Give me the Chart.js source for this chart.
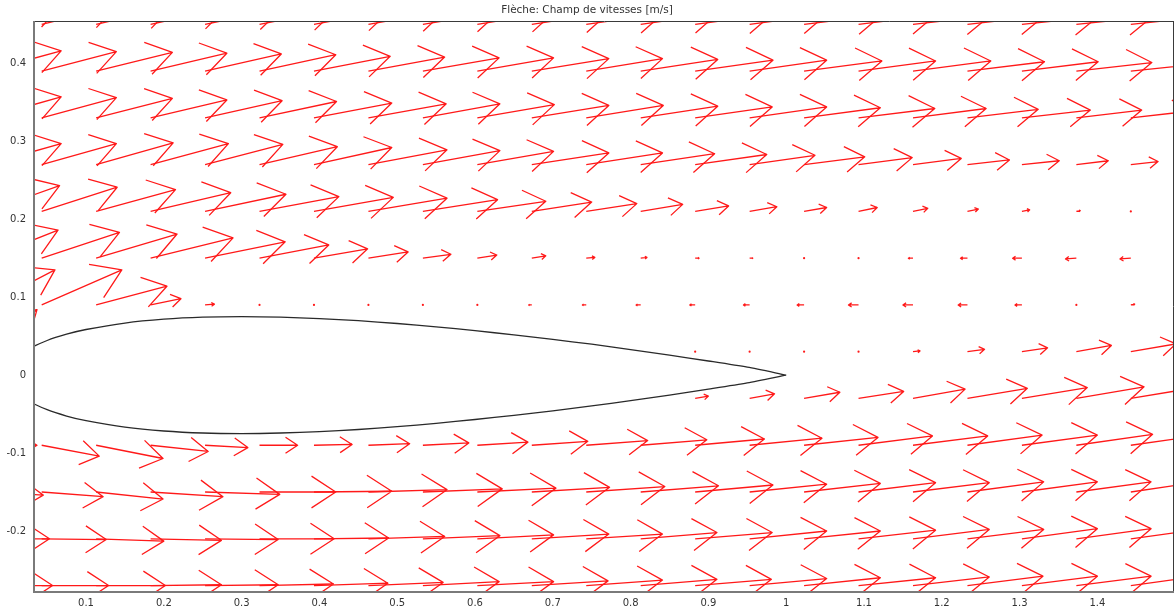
<!DOCTYPE html>
<html>
<head>
<meta charset="utf-8">
<script src="https://cdn.jsdelivr.net/npm/chart.js@4"></script>
<style>
  body { margin: 0; background: #fff; }
  #wrap { width: 1174px; height: 614px; }
</style>
</head>
<body>
<div id="wrap"><canvas id="myChart"></canvas></div>
<script>
// grid of arrow tails (columns left -> right, rows top -> bottom)
const xCols = [-0.027, 0.043, 0.113, 0.183, 0.253, 0.323, 0.393, 0.463, 0.533, 0.603, 0.673,
               0.743, 0.813, 0.883, 0.953, 1.023, 1.093, 1.163, 1.233, 1.303, 1.373, 1.443];
const yRows = [0.45, 0.39, 0.33, 0.27, 0.21, 0.15, 0.09, 0.03, -0.03, -0.09, -0.15, -0.21, -0.27];

// velocity components [m/s], one array per row, null = inside the profile
const uP45 = [0.95,0.96,0.97,0.97,0.98,0.98,0.98,0.98,0.98,0.99,0.99,0.99,0.99,0.99,0.99,1.00,0.99,0.99,0.99,0.98,0.98,0.97];
const vP45 = [0.24,0.23,0.22,0.21,0.20,0.19,0.18,0.17,0.16,0.16,0.15,0.14,0.14,0.13,0.13,0.12,0.12,0.11,0.11,0.10,0.10,0.10];
const uP39 = [0.95,0.96,0.98,0.98,0.98,0.98,0.98,0.98,0.98,0.98,0.99,0.98,0.99,1.00,0.99,1.00,0.99,1.00,0.99,0.98,0.97,0.96];
const vP39 = [0.26,0.25,0.24,0.23,0.22,0.21,0.19,0.18,0.17,0.17,0.16,0.16,0.15,0.14,0.14,0.13,0.13,0.13,0.12,0.12,0.11,0.10];
const uP33 = [0.95,0.96,0.98,0.98,0.99,0.99,1.00,1.00,0.99,0.99,0.99,0.99,0.99,0.99,0.99,0.98,0.98,0.94,0.91,0.88,0.84,0.80];
const vP33 = [0.27,0.26,0.25,0.23,0.22,0.21,0.19,0.18,0.18,0.17,0.16,0.16,0.15,0.14,0.14,0.13,0.12,0.12,0.11,0.10,0.10,0.09];
const uP27 = [0.95,0.96,0.99,1.00,1.00,1.00,1.00,1.01,0.99,0.98,0.99,0.98,0.95,0.92,0.84,0.78,0.69,0.62,0.54,0.48,0.41,0.35];
const vP27 = [0.27,0.27,0.28,0.27,0.26,0.23,0.22,0.19,0.18,0.17,0.15,0.15,0.14,0.13,0.12,0.10,0.09,0.08,0.06,0.05,0.05,0.04];
const uP21 = [0.93,0.97,1.02,1.03,1.04,1.02,1.02,1.01,0.96,0.88,0.77,0.65,0.54,0.43,0.35,0.29,0.24,0.19,0.14,0.10,0.05,0.03];
const vP21 = [0.33,0.31,0.28,0.24,0.22,0.19,0.18,0.17,0.15,0.13,0.12,0.10,0.09,0.07,0.06,0.05,0.05,0.04,0.03,0.02,0.01,0.00];
const uP15 = [0.91,1.00,1.04,1.06,1.03,0.89,0.69,0.51,0.36,0.25,0.18,0.11,0.08,0.05,0.04,0.00,-0.01,-0.06,-0.09,-0.12,-0.14,-0.14];
const vP15 = [0.36,0.33,0.31,0.26,0.21,0.17,0.12,0.08,0.05,0.04,0.03,0.01,0.01,0,0,0,0,0,0,0,-0.01,-0.01];
const uP09 = [0.87,1.03,0.91,0.39,0.12,0.01,0.01,0.00,-0.01,-0.02,-0.04,-0.05,-0.06,-0.07,-0.08,-0.09,-0.13,-0.13,-0.12,-0.09,-0.01,0.05];
const vP09 = [0.45,0.45,0.24,0.08,0.01,0,0,0,0,0,0,0,0,0,0,0,0,0,0,0,0,0.01];
const uP03 = [0.64,null,null,null,null,null,null,null,null,null,null,null,null,0,0,0.01,0.01,0.09,0.22,0.33,0.45,0.58];
const vP03 = [0.54,null,null,null,null,null,null,null,null,null,null,null,null,0,0,0,0,0.01,0.03,0.05,0.08,0.10];
const uM03 = [0.30,null,null,null,null,null,null,null,null,null,null,null,null,0.17,0.32,0.46,0.58,0.67,0.77,0.84,0.87,0.90];
const vM03 = [-0.35,null,null,null,null,null,null,null,null,null,null,null,null,0.03,0.06,0.08,0.09,0.12,0.13,0.14,0.15,0.15];
const uM09 = [0.64,0.74,0.86,0.74,0.55,0.49,0.49,0.53,0.59,0.65,0.72,0.79,0.85,0.89,0.93,0.95,0.95,0.96,0.96,0.97,0.98,0.98];
const vM09 = [0,-0.14,-0.17,-0.08,-0.03,0,0.01,0.02,0.03,0.04,0.05,0.06,0.07,0.08,0.09,0.10,0.12,0.12,0.13,0.13,0.14,0.14];
const uM15 = [0.72,0.79,0.86,0.93,0.96,0.98,1.00,1.01,1.02,1.01,1.00,1.01,1.00,1.00,0.99,0.98,0.99,0.98,0.98,0.97,0.96,0.96];
const vM15 = [-0.04,-0.06,-0.09,-0.06,-0.03,0,0.01,0.03,0.04,0.05,0.06,0.07,0.08,0.09,0.10,0.11,0.12,0.12,0.13,0.13,0.13,0.14];
const uM21 = [0.80,0.83,0.87,0.91,0.94,0.96,0.96,0.98,0.99,0.98,0.99,0.98,0.98,0.99,0.99,0.98,0.99,0.98,0.98,0.97,0.96,0.96];
const vM21 = [0,-0.01,-0.03,-0.02,-0.01,0,0.01,0.03,0.04,0.05,0.06,0.06,0.08,0.08,0.10,0.10,0.11,0.12,0.12,0.13,0.13,0.13];
const uM27 = [0.84,0.86,0.89,0.91,0.94,0.95,0.95,0.96,0.98,0.98,0.98,0.98,0.98,0.98,0.99,0.98,0.99,0.98,0.97,0.97,0.96,0.96];
const vM27 = [0,0,0,0.01,0.01,0.02,0.03,0.04,0.05,0.05,0.06,0.07,0.08,0.08,0.09,0.10,0.10,0.11,0.12,0.12,0.12,0.13];

const uRows = [uP45, uP39, uP33, uP27, uP21, uP15, uP09, uP03, uM03, uM09, uM15, uM21, uM27];
const vRows = [vP45, vP39, vP33, vP27, vP21, vP15, vP09, vP03, vM03, vM09, vM15, vM21, vM27];

// profile (symmetric), chord stations and half thickness
const profileX = [0, 0.005, 0.0125, 0.025, 0.05, 0.075, 0.1, 0.15, 0.2, 0.25, 0.3, 0.35, 0.4, 0.45,
                  0.5, 0.55, 0.6, 0.65, 0.7, 0.75, 0.8, 0.85, 0.9, 0.95, 1.0];
const profileT = [0, 0.0154, 0.0237, 0.0327, 0.0444, 0.0525, 0.0585, 0.0668, 0.0717, 0.0743, 0.0750, 0.0743,
                  0.0725, 0.0698, 0.0662, 0.0619, 0.0570, 0.0516, 0.0458, 0.0396, 0.0328, 0.0256, 0.0181, 0.0101, 0];

const xTicks = [0.1, 0.2, 0.3, 0.4, 0.5, 0.6, 0.7, 0.8, 0.9, 1, 1.1, 1.2, 1.3, 1.4];
const xTickLabels = ['0.1','0.2','0.3','0.4','0.5','0.6','0.7','0.8','0.9','1','1.1','1.2','1.3','1.4'];
const yTicks = [-0.2, -0.1, 0, 0.1, 0.2, 0.3, 0.4];
const yTickLabels = ['-0.2','-0.1','0','0.1','0.2','0.3','0.4'];

const ARROW_SCALE = 0.1;   // plot units per m/s

(function () {
    "use strict";

    Chart.defaults.font.family = "'DejaVu Sans', Verdana, sans-serif";
    Chart.defaults.font.size = 10;
    Chart.defaults.color = '#333';

    // arrow tails
    let field = [];
    yRows.forEach(function (yv, r) {
        xCols.forEach(function (xv, c) {
            let u = uRows[r][c], v = vRows[r][c];
            if (u === null) return;
            field.push({ x: xv, y: yv, u: u, v: v });
        });
    });

    // closed outline: upper surface TE -> LE, lower LE -> TE
    let profile = [];
    for (let i = profileX.length - 1; i >= 0; i--) profile.push({ x: profileX[i], y: profileT[i] });
    for (let i = 1; i < profileX.length; i++) profile.push({ x: profileX[i], y: -profileT[i] });

    const quiver = {
        id: 'quiver',
        afterDatasetsDraw(chart) {
            const ctx = chart.ctx, a = chart.chartArea;
            const sx = chart.scales.x, sy = chart.scales.y;
            ctx.save();
            ctx.beginPath();
            ctx.rect(a.left, a.top, a.right - a.left, a.bottom - a.top);
            ctx.clip();
            ctx.strokeStyle = 'rgb(255,25,25)';
            ctx.fillStyle = 'rgb(255,25,25)';
            ctx.lineWidth = 1.3;
            ctx.lineJoin = 'round';
            chart.data.datasets[0].data.forEach(function (p) {
                let x0 = sx.getPixelForValue(p.x), y0 = sy.getPixelForValue(p.y);
                let x1 = sx.getPixelForValue(p.x + p.u * ARROW_SCALE);
                let y1 = sy.getPixelForValue(p.y + p.v * ARROW_SCALE);
                let dx = x1 - x0, dy = y1 - y0, len = Math.hypot(dx, dy);
                if (len < 2.5) {
                    ctx.beginPath();
                    ctx.arc(x0, y0, 1.1, 0, Math.PI * 2);
                    ctx.fill();
                    return;
                }
                let ang = Math.atan2(dy, dx), h = len * 0.38, w = 0.58;
                ctx.beginPath();
                ctx.moveTo(x0, y0);
                ctx.lineTo(x1, y1);
                ctx.moveTo(x1 - h * Math.cos(ang - w), y1 - h * Math.sin(ang - w));
                ctx.lineTo(x1, y1);
                ctx.lineTo(x1 - h * Math.cos(ang + w), y1 - h * Math.sin(ang + w));
                ctx.stroke();
            });
            ctx.restore();
        },
        afterDraw(chart) {
            const ctx = chart.ctx, a = chart.chartArea;
            ctx.save();
            ctx.strokeStyle = '#3a3a3a';
            ctx.lineWidth = 1;
            ctx.beginPath();
            ctx.moveTo(a.left, a.top - 0.5); ctx.lineTo(a.right, a.top - 0.5);
            ctx.moveTo(a.right - 0.5, a.top); ctx.lineTo(a.right - 0.5, a.bottom);
            ctx.stroke();
            ctx.strokeStyle = '#7a7a7a';
            ctx.lineWidth = 2;
            ctx.beginPath();
            ctx.moveTo(a.left - 1, a.top - 1); ctx.lineTo(a.left - 1, a.bottom + 1);
            ctx.lineTo(a.right, a.bottom + 1);
            ctx.stroke();
            ctx.restore();
        }
    };

    var ctx = document.getElementById('myChart').getContext('2d');
    var chart = new Chart(ctx, {
        type: 'scatter',
        data: {
            datasets: [
                {
                    label: 'vitesse',
                    data: field,
                    pointRadius: 0,
                    showLine: false
                },
                {
                    label: 'profil',
                    data: profile,
                    showLine: true,
                    borderColor: '#2a2a2a',
                    borderWidth: 1.3,
                    pointRadius: 0,
                    tension: 0.25,
                    fill: false
                }
            ]
        },
        options: {
            responsive: true,
            maintainAspectRatio: false,
            animation: false,
            layout: { padding: 0 },
            plugins: {
                legend: { display: false },
                tooltip: { enabled: false },
                title: {
                    display: true,
                    text: 'Flèche: Champ de vitesses [m/s]',
                    color: '#333',
                    font: { size: 10.5, weight: 'normal' },
                    padding: { top: 4, bottom: 5.4 }
                }
            },
            scales: {
                x: {
                    type: 'linear',
                    min: 0.0344,
                    max: 1.4985,
                    grid: { display: false, drawTicks: false },
                    border: { display: false },
                    afterBuildTicks: function (s) { s.ticks = xTicks.map(v => ({ value: v })); },
                    afterFit: function (s) { s.height = 23; },
                    ticks: {
                        autoSkip: false,
                        maxRotation: 0,
                        padding: 6,
                        callback: (v, i) => xTickLabels[i]
                    }
                },
                y: {
                    type: 'linear',
                    min: -0.277,
                    max: 0.453,
                    grid: { display: false, drawTicks: false },
                    border: { display: false },
                    afterBuildTicks: function (s) { s.ticks = yTicks.map(v => ({ value: v })); },
                    afterFit: function (s) { s.width = 35; },
                    ticks: {
                        autoSkip: false,
                        padding: 9,
                        callback: (v, i) => yTickLabels[i]
                    }
                }
            }
        },
        plugins: [quiver]
    });
})();
</script>
</body>
</html>
